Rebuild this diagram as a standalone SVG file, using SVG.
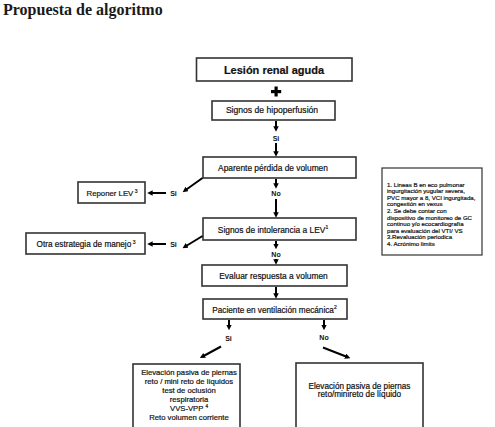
<svg xmlns="http://www.w3.org/2000/svg" width="495" height="427" viewBox="0 0 495 427">
<style>
.bx{fill:#fff;stroke:#333;stroke-width:1.6}
.t{font-family:"Liberation Sans",Arial,sans-serif;fill:#111;text-anchor:middle;stroke:#111;stroke-width:0.2}
.lbl{font-family:"Liberation Sans",Arial,sans-serif;font-weight:bold;font-size:7px;fill:#111;text-anchor:middle}
.note{font-family:"Liberation Sans",Arial,sans-serif;font-size:6.1px;fill:#111;stroke:#111;stroke-width:0.2}
.ar{stroke:#000;stroke-width:2;fill:none;marker-end:url(#ah)}
</style>
<defs>
<marker id="ah" viewBox="0 0 10 10" refX="4" refY="5" markerWidth="5.5" markerHeight="5.5" markerUnits="userSpaceOnUse" orient="auto">
<path d="M0,0 L10,5 L0,10 z" fill="#000"/>
</marker>
</defs>
<rect width="495" height="427" fill="#fff"/>
<text x="3" y="14.5" font-family="Liberation Serif,serif" font-weight="bold" font-size="16" fill="#1a1a1a">Propuesta de algoritmo</text>

<g id="n1"><rect class="bx" x="196.5" y="58" width="155.5" height="23" stroke-width="2"/><text class="t" x="274" y="74" font-size="11" font-weight="bold" stroke-width="0">Lesión renal aguda</text></g>
<g id="plus"><rect x="274.5" y="86.5" width="3.2" height="10" fill="#000"/><rect x="271" y="90" width="10.2" height="3.2" fill="#000"/></g>
<g id="n2"><rect class="bx" x="212" y="101" width="123" height="19"/><text class="t" x="272" y="113.3" font-size="8.6">Signos de hipoperfusión</text></g>
<g id="n3"><rect class="bx" x="203" y="157" width="153" height="21"/><text class="t" x="273" y="171" font-size="8.4">Aparente pérdida de volumen</text></g>
<g id="n4"><rect class="bx" x="203" y="218" width="153" height="22"/><text class="t" x="273" y="232.5" font-size="8.4">Signos de intolerancia a LEV<tspan font-size="5" dy="-3.5">1</tspan></text></g>
<g id="n5"><rect class="bx" x="202" y="265" width="145" height="21"/><text class="t" x="273.5" y="279.3" font-size="8.4">Evaluar respuesta a volumen</text></g>
<g id="n6"><rect class="bx" x="203" y="299" width="144" height="20"/><text class="t" x="274.5" y="312.5" font-size="8.2">Paciente en ventilación mecánica<tspan font-size="5" dy="-3.5">2</tspan></text></g>
<g id="n7"><rect class="bx" x="78" y="182" width="67" height="21"/><text class="t" x="112" y="195.5" font-size="7.8">Reponer LEV<tspan font-size="5" dy="-3"> 3</tspan></text></g>
<g id="n8"><rect class="bx" x="26" y="233" width="119" height="21"/><text class="t" x="86" y="246.5" font-size="8.2">Otra estrategia de manejo<tspan font-size="5" dy="-3"> 3</tspan></text></g>
<g id="n9"><rect class="bx" x="133" y="364" width="107" height="70"/>
<text class="t" font-size="7.7"><tspan x="189" y="375.3">Elevación pasiva de piernas</tspan><tspan x="189" y="384.2">reto / mini reto de líquidos</tspan><tspan x="189" y="393.1">test de oclusión</tspan><tspan x="189" y="402">respiratoria</tspan><tspan x="189" y="410.9">VVS-VPP <tspan font-size="4.6" dy="-3">4</tspan></tspan><tspan x="189" y="419.8">Reto volumen corriente</tspan></text></g>
<g id="n10"><rect class="bx" x="296" y="363" width="127" height="70"/>
<text class="t" font-size="8.2"><tspan x="359.5" y="389.3">Elevación pasiva de piernas</tspan><tspan x="359.5" y="397">reto/minireto de líquido</tspan></text></g>
<g id="note"><rect x="382" y="168" width="100" height="87" fill="#fff" stroke="#333" stroke-width="1.2"/>
<text class="note"><tspan x="387" y="186.5">1. Lineas B en eco pulmonar</tspan><tspan x="387" y="193.1">ingurgitación yugular severa,</tspan><tspan x="387" y="199.7">PVC mayor a 8, VCI ingurgitada,</tspan><tspan x="387" y="206.3">congestión en vexus</tspan><tspan x="387" y="212.9">2. Se debe contar con</tspan><tspan x="387" y="219.5">dispositivo de monitoreo de GC</tspan><tspan x="387" y="226.1">continuo y/o ecocardiografía</tspan><tspan x="387" y="232.7">para evaluación del VTI/ VS</tspan><tspan x="387" y="239.3">3.Revaluación periodica</tspan><tspan x="387" y="245.9">4. Acrónimo limits</tspan></text></g>

<g id="connectors">
<line class="ar" x1="276" y1="121" x2="276" y2="128.5"/>
<text class="lbl" x="276" y="140.5">Si</text>
<line class="ar" x1="276" y1="143" x2="276" y2="153.5"/>
<line class="ar" x1="276" y1="179" x2="276" y2="185.5"/>
<text class="lbl" x="276" y="196">No</text>
<line class="ar" x1="276" y1="199" x2="276" y2="214.5"/>
<line class="ar" x1="276" y1="241" x2="276" y2="246"/>
<text class="lbl" x="276" y="257">No</text>
<line class="ar" x1="276" y1="259" x2="276" y2="261.5"/>
<line class="ar" x1="276" y1="287" x2="276" y2="295.5"/>
<line class="ar" x1="202.5" y1="178" x2="185.3" y2="190.3"/>
<text class="lbl" x="173.5" y="195.5">Si</text>
<line class="ar" x1="166" y1="193" x2="150.5" y2="193"/>
<line class="ar" x1="202.5" y1="236" x2="185.3" y2="246.5"/>
<text class="lbl" x="173.5" y="246.5">Si</text>
<line class="ar" x1="166" y1="244" x2="150.5" y2="244"/>
<line class="ar" x1="229" y1="320" x2="229" y2="327"/>
<text class="lbl" x="228.5" y="340.5">Si</text>
<line class="ar" x1="324" y1="320" x2="324" y2="327"/>
<text class="lbl" x="324" y="340">No</text>
<line class="ar" x1="221" y1="346.5" x2="202.7" y2="356.5"/>
<line class="ar" x1="323" y1="347.5" x2="347.3" y2="357"/>
</g>
</svg>
